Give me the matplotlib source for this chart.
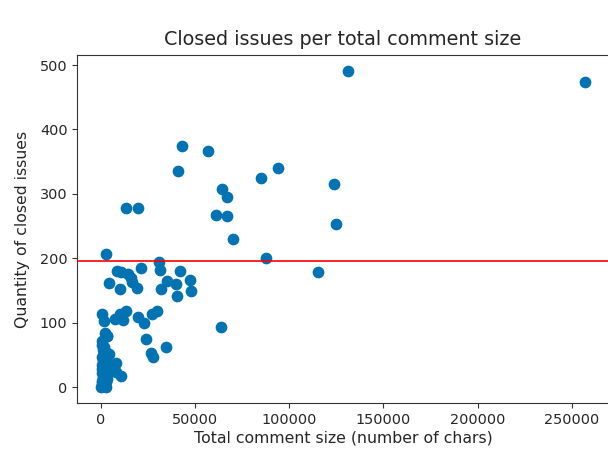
import matplotlib
matplotlib.use("Agg")
import matplotlib.pyplot as plt

# Total comment size (chars) and closed issues per repository
comment_size = [
    131000, 257000, 43000, 57000, 41000, 94000, 85000, 124000, 64000, 67000,
    61000, 67000, 125000, 70000, 13500, 19500, 2500, 87500, 31000, 115000, 63500,
    31500, 8500, 10600, 14500, 21000, 42000, 16000, 16500, 4300, 10000,
    19000, 35000, 39800, 31800, 40500, 47000, 48000,
    500, 1500, 7500, 10000, 11500, 13300, 19500, 22800, 27300, 29500,
    3200, 23800, 26500, 27400, 34500, 8000, 8000, 10800,
    2100, 3300, 700, 1600, 4200, 300, 2600, 700, 1800, 1600,
    3300, 700, 2500, 200, 1000, 300, 1200, 2000, 400, 3000,
    1200, 2500, 800, 500, 3800, 4500, 2800, 1800, 600, 1500, 5500,
]
closed_issues = [
    491, 474, 374, 367, 335, 340, 324, 315, 308, 295,
    267, 265, 253, 230, 278, 278, 206, 201, 195, 178, 94,
    182, 180, 178, 176, 185, 181, 169, 163, 161, 152,
    154, 165, 160, 153, 141, 166, 149,
    114, 102, 106, 114, 104, 119, 109, 99, 114, 119,
    80, 75, 53, 47, 63, 37, 23, 18,
    84, 79, 71, 62, 52, 47, 44, 34, 38, 19,
    13, 6, 1, 0, 3, 10, 15, 25, 28, 30,
    40, 55, 57, 65, 22, 28, 8, 5, 22, 50, 35,
]
reference_level = 195.5

text_color = "#262626"
fig = plt.figure(figsize=(6.08, 4.55), dpi=100)
ax = fig.add_axes([0.1271, 0.1143, 0.8745, 0.7648])
ax.scatter(comment_size, closed_issues, s=55, color="#0173b2", zorder=2)
ax.axhline(reference_level, color="red", linewidth=1.2, zorder=3)
ax.set_title("Closed issues per total comment size", fontsize=13.8, color=text_color, pad=7)
ax.set_xlabel("Total comment size (number of chars)", fontsize=11.3, color=text_color, labelpad=3)
ax.set_ylabel("Quantity of closed issues", fontsize=11.3, color=text_color, labelpad=7)
ax.tick_params(labelsize=10.4, labelcolor=text_color, colors="#333333")
for sp in ax.spines.values():
    sp.set_color("#333333")
fig.savefig("out.png", dpi=100)
